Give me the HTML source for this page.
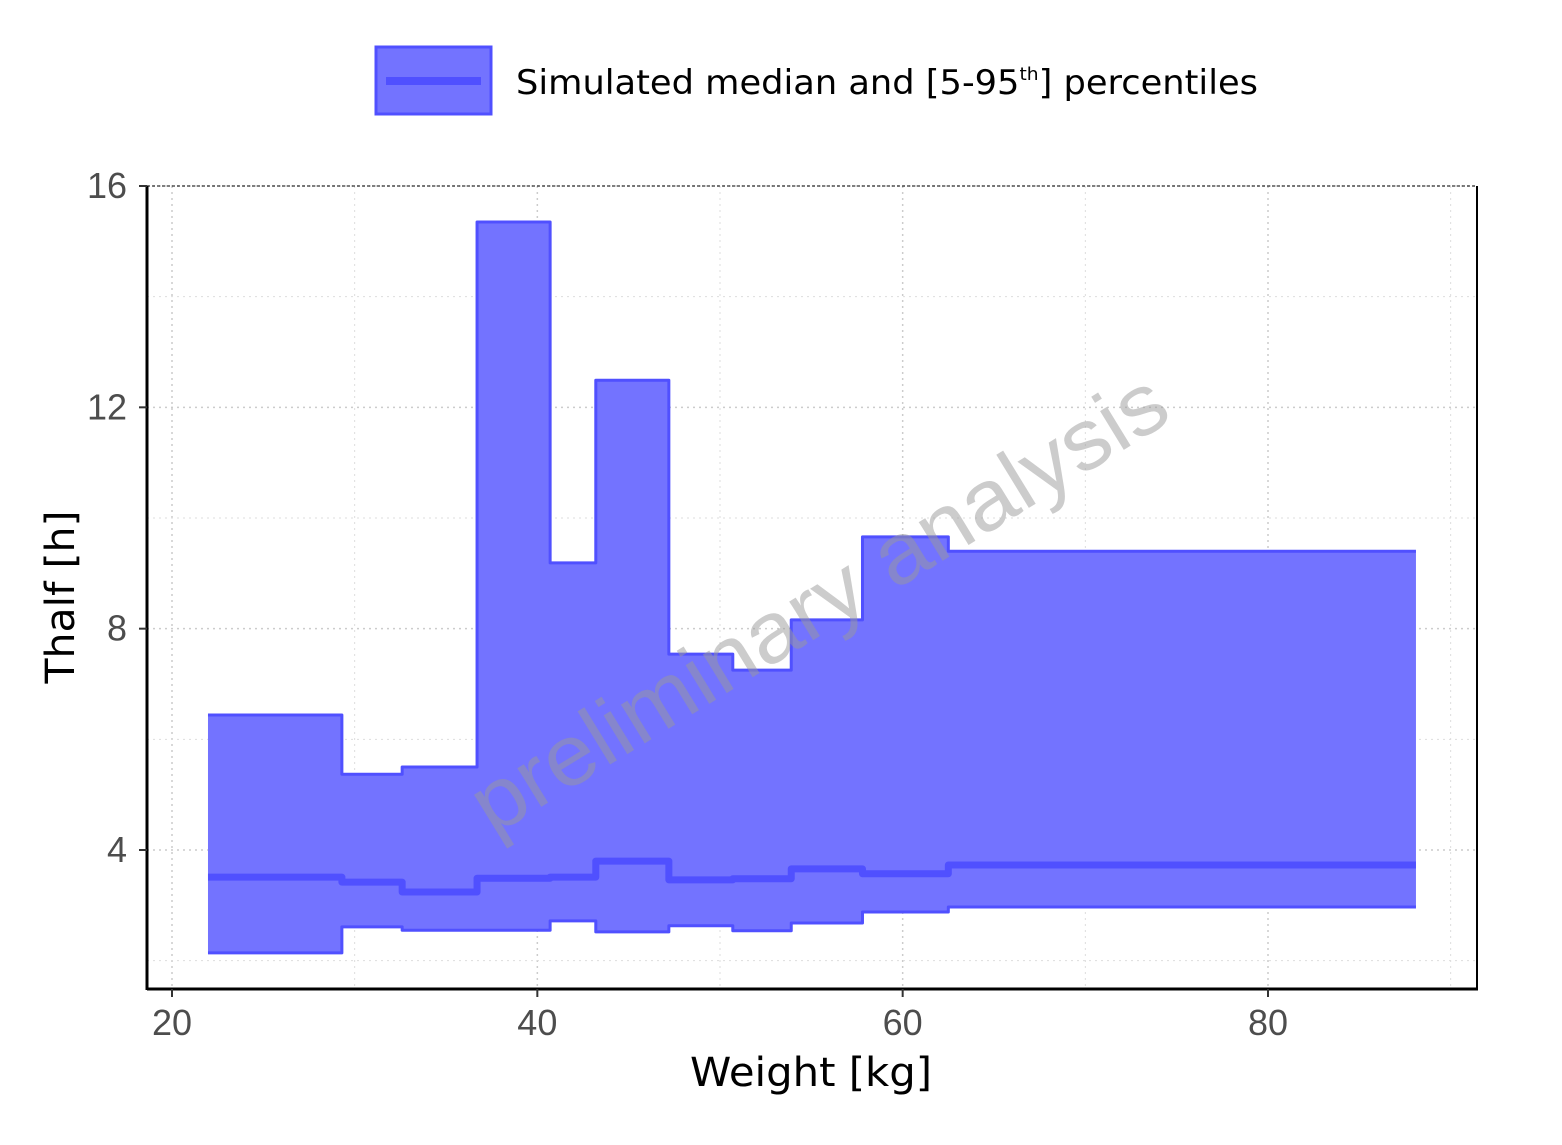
<!DOCTYPE html>
<html><head><meta charset="utf-8"><style>
body{margin:0;background:#fff;width:1562px;height:1140px;overflow:hidden}
svg text{font-family:"Liberation Sans",sans-serif}
.dv{font-family:"DejaVu Sans","Liberation Sans",sans-serif}
</style></head><body>
<svg id="chart" width="1562" height="1140" xmlns="http://www.w3.org/2000/svg">
<g id="legend">
<rect x="376" y="47" width="115" height="67" fill="#7373ff" stroke="#5050ff" stroke-width="3"/>
<line x1="386" y1="81" x2="481" y2="81" stroke="#5050ff" stroke-width="8"/>
<text class="dv" x="516" y="94" font-size="34" fill="#000" textLength="742" lengthAdjust="spacingAndGlyphs">Simulated median and [5-95<tspan font-size="18" dy="-14">th</tspan><tspan dy="14">] percentiles</tspan></text>
</g>
<g id="grid"></g>
<g id="marks"></g>
<text x="818" y="632" font-size="86" fill="#999" fill-opacity="0.5" text-anchor="middle" textLength="800" lengthAdjust="spacingAndGlyphs" transform="rotate(-31.5 818 602)">preliminary analysis</text>
<g id="axes"></g>
<text class="dv" x="811" y="1086" font-size="40" text-anchor="middle" textLength="242" lengthAdjust="spacingAndGlyphs">Weight [kg]</text>
<text class="dv" x="74" y="597" font-size="40" text-anchor="middle" textLength="173" lengthAdjust="spacingAndGlyphs" transform="rotate(-90 74 597)">Thalf [h]</text>
</svg>
<script>
const edges=[21.97,29.3,32.6,36.7,40.7,43.2,47.2,50.7,53.9,57.8,62.5,88.1];
const upper=[6.44,5.37,5.50,15.35,9.19,12.49,7.54,7.25,8.16,9.66,9.40];
const median=[3.51,3.42,3.24,3.49,3.51,3.80,3.46,3.48,3.66,3.57,3.73];
const lower=[2.14,2.61,2.55,2.55,2.72,2.52,2.63,2.54,2.68,2.88,2.97];
const xTicks=[20,40,60,80];
const yTicks=[4,8,12,16];
const L=147,R=1477,T=186,B=989;
const sx=v=>172+(v-20)*(1268-172)/60;
const sy=v=>850-(v-4)*(850-186)/12;
const NS="http://www.w3.org/2000/svg";
function mk(t,a,p){const e=document.createElementNS(NS,t);for(const k in a)e.setAttribute(k,a[k]);p.appendChild(e);return e;}
const grid=document.getElementById('grid'),marks=document.getElementById('marks'),axes=document.getElementById('axes');
mk('rect',{x:L,y:T,width:R-L,height:B-T,fill:'#fff'},grid);
for(let v=10;v<=90;v+=10){const e=mk('line',{x1:sx(v),x2:sx(v),y1:T,y2:B,stroke:v%20?'#ddd':'#ccc','stroke-width':v%20?1:1.5,'stroke-dasharray':'2,4'},grid);

}
for(let v=2;v<=16;v+=2){const e=mk('line',{x1:L,x2:R,y1:sy(v),y2:sy(v),stroke:v%4?'#ddd':'#ccc','stroke-width':v%4?1:1.5,'stroke-dasharray':'2,4'},grid);

}
function stepPts(vals){let p=[];vals.forEach((v,i)=>{p.push([sx(edges[i]),sy(v)],[sx(edges[i+1]),sy(v)]);});return p;}
const up=stepPts(upper),lo=stepPts(lower).reverse();
const band=mk('polygon',{points:up.concat(lo).map(p=>p.join(',')).join(' '),fill:'#7373ff',stroke:'none'},marks);


[[upper,'upper-line',3],[lower,'lower-line',3],[median,'median-line',7]].forEach(([vals,n,w])=>{
const e=mk('polyline',{points:stepPts(vals).map(p=>p.join(',')).join(' '),fill:'none',stroke:'#5050ff','stroke-width':w,'stroke-linejoin':'round'},marks);

});
mk('line',{x1:L,x2:R,y1:T,y2:T,stroke:'#000','stroke-width':1,'stroke-dasharray':'3,2'},axes);
mk('line',{x1:R,x2:R,y1:T,y2:B,stroke:'#000','stroke-width':2},axes);
mk('line',{x1:L,x2:L,y1:T,y2:B+1,stroke:'#000','stroke-width':3},axes);
mk('line',{x1:L,x2:R+1,y1:B,y2:B,stroke:'#000','stroke-width':3},axes);
xTicks.forEach(v=>{mk('line',{x1:sx(v),x2:sx(v),y1:B,y2:B+8,stroke:'#333','stroke-width':2},axes);
const t=mk('text',{x:sx(v),y:B+46,'font-size':36,fill:'#4d4d4d','text-anchor':'middle'},axes);t.textContent=v;

});
yTicks.forEach(v=>{mk('line',{x1:L-8,x2:L,y1:sy(v),y2:sy(v),stroke:'#333','stroke-width':2},axes);
const t=mk('text',{x:L-20,y:sy(v)+12,'font-size':36,fill:'#4d4d4d','text-anchor':'end'},axes);t.textContent=v;

});
</script>
</body></html>
